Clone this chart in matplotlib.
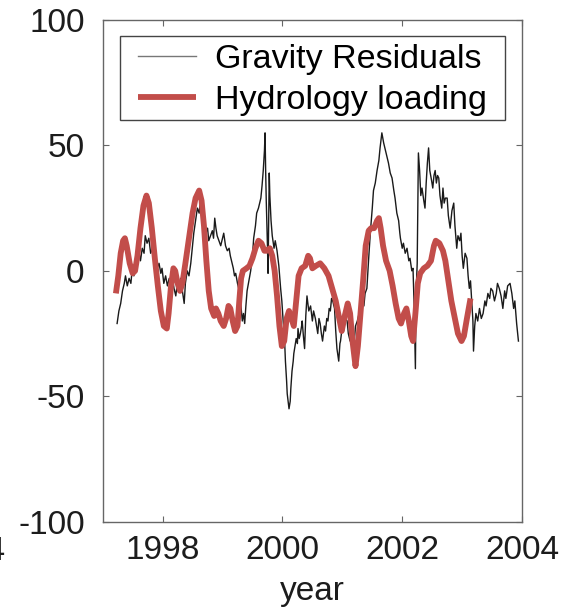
import matplotlib
matplotlib.use("Agg")
import matplotlib.pyplot as plt
from matplotlib.patches import Rectangle

plt.rcParams["font.family"] = ["Liberation Sans", "DejaVu Sans"]
plt.rcParams["axes.unicode_minus"] = False

# gravity residuals (nm/s^2), sampled through the record
grav_year = [
    1997.24, 1997.27, 1997.30, 1997.33, 1997.36, 1997.38, 1997.41, 1997.44, 1997.47, 1997.49,
    1997.52, 1997.55, 1997.58, 1997.61, 1997.63, 1997.66, 1997.69, 1997.71, 1997.74, 1997.77,
    1997.80, 1997.83, 1997.86, 1997.88, 1997.91, 1997.94, 1997.97, 1997.99, 1998.02, 1998.05,
    1998.08, 1998.11, 1998.14, 1998.16, 1998.19, 1998.22, 1998.25, 1998.28, 1998.30, 1998.33,
    1998.36, 1998.38, 1998.41, 1998.44, 1998.47, 1998.50, 1998.52, 1998.55, 1998.58, 1998.61,
    1998.63, 1998.66, 1998.69, 1998.72, 1998.75, 1998.77, 1998.80, 1998.83, 1998.85, 1998.87,
    1998.89, 1998.91, 1998.94, 1998.97, 1999.00, 1999.02, 1999.05, 1999.08, 1999.11, 1999.13,
    1999.16, 1999.18, 1999.20, 1999.22, 1999.25, 1999.27, 1999.30, 1999.33, 1999.35, 1999.37,
    1999.39, 1999.41, 1999.44, 1999.47, 1999.50, 1999.52, 1999.55, 1999.57, 1999.60, 1999.62,
    1999.64, 1999.66, 1999.68, 1999.70, 1999.71, 1999.72, 1999.73, 1999.75, 1999.76, 1999.77,
    1999.78, 1999.79, 1999.81, 1999.83, 1999.86, 1999.88, 1999.91, 1999.94, 1999.97, 1999.99,
    2000.02, 2000.04, 2000.05, 2000.07, 2000.08, 2000.10, 2000.11, 2000.13, 2000.14, 2000.16,
    2000.18, 2000.19, 2000.21, 2000.23, 2000.25, 2000.26, 2000.28, 2000.30, 2000.32, 2000.33,
    2000.35, 2000.37, 2000.39, 2000.41, 2000.44, 2000.47, 2000.50, 2000.52, 2000.55, 2000.57,
    2000.59, 2000.61, 2000.63, 2000.65, 2000.67, 2000.70, 2000.72, 2000.74, 2000.76, 2000.78,
    2000.80, 2000.82, 2000.84, 2000.87, 2000.89, 2000.91, 2000.94, 2000.96, 2000.97, 2001.00,
    2001.02, 2001.05, 2001.08, 2001.10, 2001.13, 2001.16, 2001.19, 2001.22, 2001.25, 2001.28,
    2001.30, 2001.33, 2001.36, 2001.38, 2001.41, 2001.44, 2001.47, 2001.50, 2001.52, 2001.55,
    2001.58, 2001.61, 2001.63, 2001.66, 2001.69, 2001.72, 2001.75, 2001.77, 2001.80, 2001.83,
    2001.86, 2001.88, 2001.91, 2001.94, 2001.96, 2001.97, 2002.00, 2002.02, 2002.05, 2002.08,
    2002.11, 2002.13, 2002.16, 2002.18, 2002.20, 2002.22, 2002.23, 2002.25, 2002.26, 2002.27,
    2002.29, 2002.31, 2002.33, 2002.36, 2002.38, 2002.40, 2002.42, 2002.44, 2002.46, 2002.49,
    2002.51, 2002.53, 2002.55, 2002.57, 2002.59, 2002.61, 2002.63, 2002.66, 2002.68, 2002.70,
    2002.72, 2002.75, 2002.77, 2002.80, 2002.83, 2002.86, 2002.88, 2002.91, 2002.93, 2002.96,
    2002.98, 2003.00, 2003.02, 2003.05, 2003.08, 2003.10, 2003.12, 2003.14, 2003.16, 2003.18,
    2003.19, 2003.21, 2003.23, 2003.26, 2003.29, 2003.32, 2003.35, 2003.38, 2003.40, 2003.43,
    2003.46, 2003.48, 2003.51, 2003.54, 2003.57, 2003.59, 2003.62, 2003.65, 2003.68, 2003.71,
    2003.73, 2003.76, 2003.80, 2003.83, 2003.86, 2003.88, 2003.91, 2003.94,
]
grav_resid = [
    -21, -16, -13, -8, -5, -2, -6, -3, -5, 0,
    -2, 2, 4, 7, 4, 9, 7, 14, 11, 13,
    7, 9, 4, 5, 1, 3, -1, 1, -5, -2,
    -6, -3, -5, -2, -7, -10, -4, -7, -3, -8,
    -13, -5, 0, -2, 3, 10, 15, 20, 25, 23,
    28, 22, 19, 15, 17, 12, 14, 16, 13, 21,
    17, 14, 12, 10, 13, 15, 10, 8, 9, 6,
    3, 1, -2, -1, -5, -7, -12, -20, -17, -21,
    -14, -8, -4, 0, 6, 13, 18, 23, 25, 27,
    29, 34, 40, 48, 55, 40, 28, 10, -1, 20,
    39, 30, 20, 14, 9, 12, 8, 2, -7, -12,
    -23, -30, -36, -44, -49, -53, -55, -52, -47, -40,
    -36, -33, -30, -27, -29, -23, -27, -25, -22, -20,
    -26, -31, -18, -10, -16, -14, -20, -16, -19, -22,
    -25, -19, -21, -25, -28, -22, -24, -19, -20, -15,
    -16, -11, -12, -15, -24, -31, -36, -29, -28, -22,
    -24, -19, -20, -25, -28, -24, -31, -22, -20, -17,
    -15, -12, -14, -9, -7, 5, 16, 25, 32, 35,
    40, 44, 49, 55, 51, 48, 45, 43, 39, 37,
    32, 29, 23, 20, 15, 13, 9, 11, 7, 9,
    4, 5, 0, 1, -15, -39, -10, 3, 25, 47,
    40, 30, 33, 28, 25, 35, 43, 49, 40, 36,
    33, 38, 40, 35, 38, 37, 30, 25, 33, 27,
    29, 29, 22, 17, 24, 27, 18, 9, 14, 12,
    15, 6, 1, 7, 5, -2, -7, -4, -12, -20,
    -32, -22, -17, -20, -15, -19, -17, -12, -14, -9,
    -11, -7, -8, -12, -9, -5, -7, -10, -15, -8,
    -11, -6, -5, -9, -15, -12, -21, -28,
]

# modelled hydrology loading (nm/s^2)
hydro_year = [
    1997.22, 1997.26, 1997.30, 1997.34, 1997.37, 1997.40, 1997.45, 1997.50, 1997.54, 1997.58,
    1997.63, 1997.68, 1997.73, 1997.77, 1997.82, 1997.87, 1997.92, 1997.97, 1998.02, 1998.07,
    1998.10, 1998.14, 1998.18, 1998.21, 1998.25, 1998.29, 1998.33, 1998.38, 1998.44, 1998.50,
    1998.55, 1998.61, 1998.65, 1998.69, 1998.73, 1998.77, 1998.81, 1998.86, 1998.89, 1998.93,
    1998.97, 1999.02, 1999.06, 1999.10, 1999.13, 1999.17, 1999.21, 1999.25, 1999.28, 1999.31,
    1999.34, 1999.40, 1999.45, 1999.50, 1999.55, 1999.60, 1999.65, 1999.70, 1999.74, 1999.79,
    1999.83, 1999.87, 1999.91, 1999.95, 1999.99, 2000.03, 2000.07, 2000.11, 2000.15, 2000.19,
    2000.23, 2000.27, 2000.32, 2000.38, 2000.43, 2000.46, 2000.50, 2000.56, 2000.63, 2000.70,
    2000.77, 2000.83, 2000.89, 2000.94, 2000.99, 2001.04, 2001.09, 2001.13, 2001.17, 2001.22,
    2001.26, 2001.30, 2001.35, 2001.39, 2001.44, 2001.48, 2001.53, 2001.58, 2001.61, 2001.64,
    2001.68, 2001.73, 2001.79, 2001.84, 2001.89, 2001.94, 2001.98, 2002.03, 2002.07, 2002.11,
    2002.15, 2002.18, 2002.22, 2002.26, 2002.30, 2002.36, 2002.42, 2002.48, 2002.53, 2002.56,
    2002.62, 2002.68, 2002.72, 2002.77, 2002.82, 2002.88, 2002.93, 2002.99, 2003.03, 2003.08,
    2003.14,
]
hydro_load = [
    -9, -2, 7, 12, 13, 10, 3, -1, 0, 6,
    17, 26, 30, 27, 17, 5, -6, -16, -22, -23,
    -17, -6, 1, 0, -5, -8, -5, 3, 13, 23,
    29, 32, 28, 18, 4, -8, -15, -18, -15, -17,
    -20, -22, -19, -14, -15, -20, -24, -22, -12, -3,
    0, 1, 2, 5, 9, 12, 11, 8, 8, 9,
    6, 0, -10, -22, -30, -28, -19, -16, -19, -22,
    -12, -2, 1, 2, 6, 5, 1, 2, 3, 1,
    -2, -7, -12, -18, -24, -18, -13, -17, -28, -38,
    -30, -18, -3, 10, 16, 17, 17, 20, 21, 17,
    10, 4, 0, -6, -13, -19, -21, -17, -15, -20,
    -26, -28, -17, -5, -1, 1, 2, 4, 10, 12,
    11, 8, 4, -4, -12, -19, -25, -28, -26, -19,
    -11,
]

fig = plt.figure(figsize=(5.81, 6.11), dpi=100)
ax = fig.add_axes([0.1768, 0.1462, 0.7217, 0.8211])

ax.plot(grav_year, grav_resid, color="#1a1a1a", lw=1.0, label="Gravity Residuals")
ax.plot(hydro_year, hydro_load, color="#c24d4a", lw=4.2, solid_joinstyle="round",
        solid_capstyle="butt", label="Hydrology loading")

ax.set_xlim(1997, 2004)
ax.set_ylim(-100, 100)
ax.set_xticks([1998, 2000, 2002, 2004])
ax.set_yticks([-100, -50, 0, 50, 100])
ax.tick_params(direction="in", length=4, width=0.8, top=True, right=True,
               labelsize=24, colors="#666666", labelcolor="#1c1c1c")
ax.tick_params(axis="x", pad=9.5)
ax.tick_params(axis="y", pad=13)
for sp in ax.spines.values():
    sp.set_color("#666666")
    sp.set_linewidth(1.0)
ax.set_xlabel("year", fontsize=24, color="#1c1c1c", labelpad=7)

# legend box drawn separately so the padding can be set per side
ax.add_patch(Rectangle((0.041, 0.801), 0.918, 0.167, transform=ax.transAxes,
                       facecolor="white", edgecolor="#444444", lw=1.0, zorder=4))
leg = ax.legend(loc="upper left", bbox_to_anchor=(0.084, 0.953), fontsize=24.5,
                frameon=False, handlelength=1.7, handletextpad=0.55,
                labelspacing=0.3, borderpad=0.0, borderaxespad=0.0)
leg.set_zorder(5)
for line in leg.get_lines():
    if line.get_label() == "Gravity Residuals":
        line.set_color("#777777")

# tick label belonging to the neighbouring panel
fig.text(0.010, 0.098, "2004", fontsize=24, color="#1c1c1c", ha="right", va="center")

fig.savefig("out.png", dpi=100)
